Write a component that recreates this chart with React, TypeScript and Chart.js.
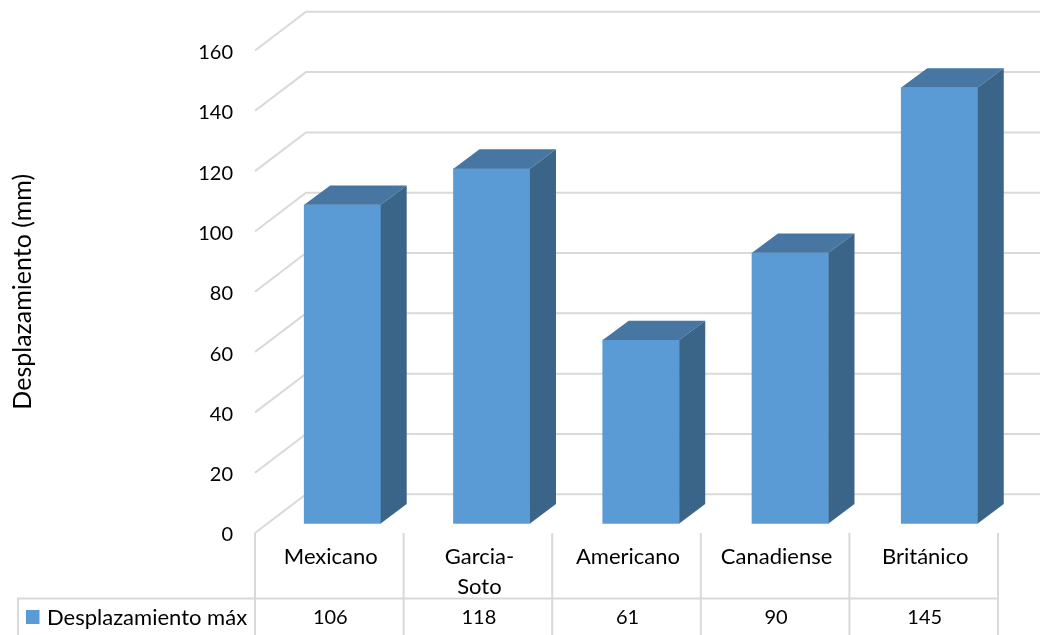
import { useEffect, useRef } from "react";
import { Chart, registerables } from "chart.js";

Chart.register(...registerables);

const categories: (string | string[])[] = ["Mexicano", ["Garcia-", "Soto"], "Americano", "Canadiense", "Británico"];
const seriesName = "Desplazamiento máx";
const seriesValues = [106, 118, 61, 90, 145];
const axisTitle = "Desplazamiento (mm)";

const FONT = "Lato, Carlito, sans-serif";
const TEXT = "#000000";
const GRID = "#d9d9d9";
const FRONT = "#5b9bd5";
const TOP = "#4676a1";
const SIDE = "#3a6488";

// Depth of the floor and walls, and of each box
const WALL_DX = 51;
const WALL_DY = 38.7;
const BOX_DX = 26;
const BOX_DY = 19.3;

function face(ctx: CanvasRenderingContext2D, pts: number[][], fill: string) {
  ctx.beginPath();
  pts.forEach(([x, y], i) => (i ? ctx.lineTo(x, y) : ctx.moveTo(x, y)));
  ctx.closePath();
  ctx.fillStyle = fill;
  ctx.fill();
}

const wallsPlugin = {
  id: "walls",
  beforeDatasetsDraw(chart: any) {
    const { ctx, scales } = chart;
    const y = scales.y;
    ctx.save();
    ctx.strokeStyle = GRID;
    ctx.lineWidth = 2;
    y.ticks.forEach((t: any) => {
      const py = y.getPixelForValue(t.value);
      ctx.beginPath();
      ctx.moveTo(y.right, py);
      ctx.lineTo(y.right + WALL_DX, py - WALL_DY);
      ctx.lineTo(chart.width, py - WALL_DY);
      ctx.stroke();
    });
    ctx.restore();
  },
};

const boxesPlugin = {
  id: "boxes",
  afterDatasetsDraw(chart: any) {
    const { ctx } = chart;
    ctx.save();
    chart.getDatasetMeta(0).data.forEach((bar: any) => {
      const l = bar.x - bar.width / 2;
      const r = bar.x + bar.width / 2;
      const t = bar.y;
      const b = bar.base;
      face(ctx, [[l, t], [r, t], [r + BOX_DX, t - BOX_DY], [l + BOX_DX, t - BOX_DY]], TOP);
      face(ctx, [[r, t], [r + BOX_DX, t - BOX_DY], [r + BOX_DX, b - BOX_DY], [r, b]], SIDE);
    });
    ctx.restore();
  },
};

const tablePlugin = {
  id: "dataTable",
  afterDraw(chart: any) {
    const { ctx, scales } = chart;
    const x = scales.x;
    const top = x.top;
    const rowTop = 598.5;
    const bottom = chart.height;
    const tableLeft = 18;
    const colW = x.width / categories.length;
    ctx.save();
    ctx.strokeStyle = GRID;
    ctx.lineWidth = 2;
    for (let i = 0; i <= categories.length; i++) {
      const px = x.left + i * colW;
      ctx.beginPath();
      ctx.moveTo(px, top);
      ctx.lineTo(px, bottom);
      ctx.stroke();
    }
    ctx.beginPath();
    ctx.moveTo(tableLeft, bottom);
    ctx.lineTo(tableLeft, rowTop);
    ctx.lineTo(x.right, rowTop);
    ctx.stroke();

    ctx.fillStyle = TEXT;
    ctx.textBaseline = "middle";
    ctx.textAlign = "center";
    const rowY = 618;
    ctx.font = `20px ${FONT}`;
    seriesValues.forEach((v, i) => {
      ctx.fillText(String(v), x.left + (i + 0.5) * colW + 1, rowY);
    });
    ctx.textAlign = "left";
    ctx.font = `22px ${FONT}`;
    ctx.fillText(seriesName, 47, rowY);
    ctx.fillStyle = FRONT;
    ctx.fillRect(26, 610, 13.5, 14);
    ctx.restore();
  },
};

export default function App() {
  const ref = useRef<HTMLCanvasElement>(null);

  useEffect(() => {
    if (!ref.current) return;
    const chart = new Chart(ref.current, {
      type: "bar",
      data: {
        datasets: [
          {
            label: seriesName,
            data: seriesValues.map((v, i) => ({ x: i, y: v })),
            backgroundColor: FRONT,
            borderWidth: 0,
            barThickness: 76.5,
            xAxisID: "x2",
            yAxisID: "y2",
          },
        ],
      },
      options: {
        responsive: false,
        animation: false,
        layout: { padding: { left: 0, right: 42, top: 50.5, bottom: 0 } },
        plugins: { legend: { display: false }, tooltip: { enabled: false } },
        scales: {
          x: {
            type: "category",
            labels: categories as any,
            position: "bottom",
            grid: { display: false },
            border: { display: false },
            ticks: {
              autoSkip: false,
              maxRotation: 0,
              minRotation: 0,
              padding: 1,
              labelOffset: 1.5,
              color: TEXT,
              font: { family: FONT, size: 22, lineHeight: 1.36 },
            },
            afterFit(scale: any) {
              scale.height = 102;
            },
          },
          y: {
            type: "linear",
            position: "left",
            min: 0,
            max: 160,
            grid: { display: false },
            border: { display: false },
            ticks: {
              stepSize: 20,
              padding: 14,
              labelOffset: 2,
              color: TEXT,
              font: { family: FONT, size: 20 },
            },
            title: {
              display: true,
              text: axisTitle,
              color: TEXT,
              font: { family: FONT, size: 25 },
              padding: { top: 8, bottom: 0 },
            },
            afterFit(scale: any) {
              scale.width = 255;
            },
          },
          // Boxes stand a little in front of the back wall, so they use their own offset scales
          x2: { type: "linear", axis: "x", position: "bottom", display: false, offset: false, min: -0.586, max: 4.392 },
          y2: { type: "linear", axis: "y", position: "left", display: false, min: -3.2, max: 157.3 },
        },
      },
      plugins: [wallsPlugin, boxesPlugin, tablePlugin],
    } as any);
    return () => chart.destroy();
  }, []);

  return (
    <div style={{ position: "absolute", left: 0, top: 0, width: 1040, height: 635, background: "#fff" }}>
      <canvas ref={ref} width={1040} height={635} style={{ display: "block" }} />
    </div>
  );
}
